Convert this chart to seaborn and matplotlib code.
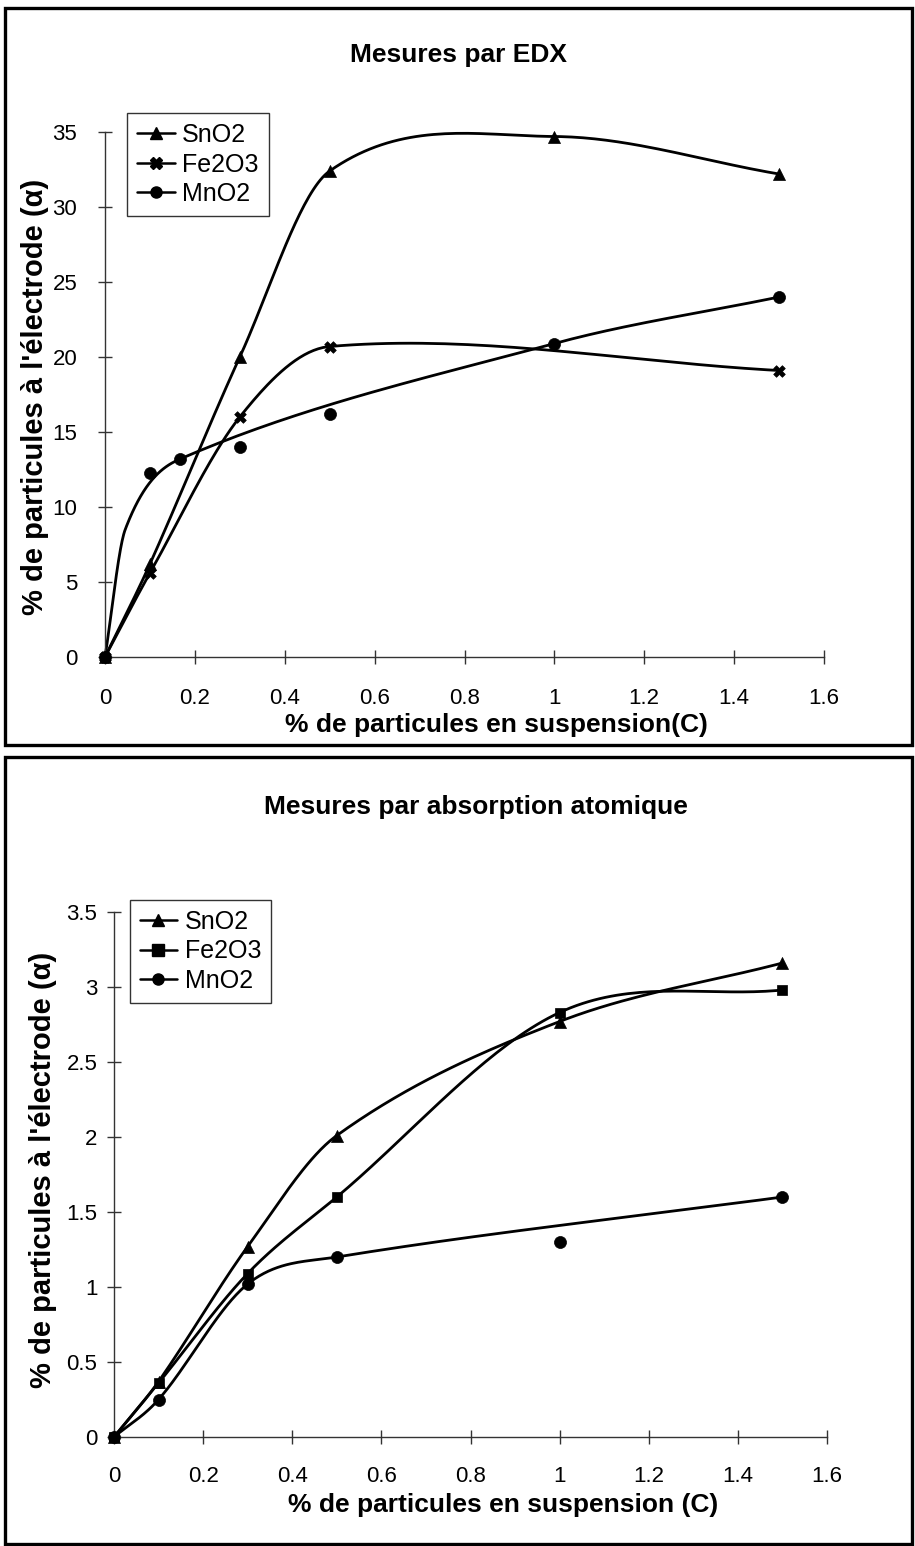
import numpy as np
import matplotlib
matplotlib.use("Agg")
import matplotlib.pyplot as plt
from matplotlib.lines import Line2D
from matplotlib.patches import Rectangle
import seaborn as sns

# ---------------- data ----------------
series_names = ["SnO2", "Fe2O3", "MnO2"]

# EDX (top)
edx_sn_x = [0, 0.1, 0.3, 0.5, 1.0, 1.5]
edx_sn_y = [0, 6.2, 20.0, 32.4, 34.7, 32.2]
edx_fe_x = [0, 0.1, 0.3, 0.5, 1.5]
edx_fe_y = [0, 5.6, 16.0, 20.7, 19.1]
edx_mn_x = [0, 0.1, 0.167, 0.3, 0.5, 1.0, 1.5]
edx_mn_y = [0, 12.3, 13.2, 14.0, 16.2, 20.9, 24.0]
# knots the drawn MnO2 curve passes through
edx_mn_curve_x = [0, 0.045, 0.167, 1.0, 1.5]
edx_mn_curve_y = [0, 8.5, 13.2, 20.9, 24.0]

# absorption atomique (bottom)
aa_sn_x = [0, 0.1, 0.3, 0.5, 1.0, 1.5]
aa_sn_y = [0, 0.37, 1.27, 2.01, 2.77, 3.16]
aa_fe_x = [0, 0.1, 0.3, 0.5, 1.0, 1.5]
aa_fe_y = [0, 0.36, 1.09, 1.60, 2.83, 2.98]
aa_mn_x = [0, 0.1, 0.3, 0.5, 1.0, 1.5]
aa_mn_y = [0, 0.25, 1.02, 1.20, 1.30, 1.60]
aa_mn_curve_x = [0, 0.1, 0.3, 0.5, 1.5]
aa_mn_curve_y = [0, 0.25, 1.02, 1.20, 1.60]

x_ticks = [0, 0.2, 0.4, 0.6, 0.8, 1, 1.2, 1.4, 1.6]
x_ticklabels = ["0", "0.2", "0.4", "0.6", "0.8", "1", "1.2", "1.4", "1.6"]
edx_yticks = [0, 5, 10, 15, 20, 25, 30, 35]
aa_yticks = [0, 0.5, 1, 1.5, 2, 2.5, 3, 3.5]
aa_yticklabels = ["0", "0.5", "1", "1.5", "2", "2.5", "3", "3.5"]

title_top = "Mesures par EDX"
title_bot = "Mesures par absorption atomique"
xlabel_top = "% de particules en suspension(C)"
xlabel_bot = "% de particules en suspension (C)"
ylabel = "% de particules à l'électrode (α)"


def smooth(xs, ys, n=40):
    """Cardinal (Catmull-Rom-like) Hermite curve through the knots, parameterised by x."""
    x = np.asarray(xs, float)
    y = np.asarray(ys, float)
    m = np.zeros_like(y)
    for i in range(len(x)):
        if i == 0:
            m[i] = (y[1] - y[0]) / (x[1] - x[0])
        elif i == len(x) - 1:
            m[i] = (y[-1] - y[-2]) / (x[-1] - x[-2])
        else:
            m[i] = (y[i + 1] - y[i - 1]) / (x[i + 1] - x[i - 1])
    ox, oy = [], []
    for i in range(len(x) - 1):
        h = x[i + 1] - x[i]
        t = np.linspace(0, 1, n)
        h00 = 2 * t**3 - 3 * t**2 + 1
        h10 = t**3 - 2 * t**2 + t
        h01 = -2 * t**3 + 3 * t**2
        h11 = t**3 - t**2
        ox.append(x[i] + t * h)
        oy.append(h00 * y[i] + h10 * h * m[i] + h01 * y[i + 1] + h11 * h * m[i + 1])
    return np.concatenate(ox), np.concatenate(oy)


sns.set_theme(style="white")
plt.rcParams["font.family"] = ["Liberation Sans", "DejaVu Sans"]
plt.rcParams["text.color"] = "black"
plt.rcParams["axes.labelcolor"] = "black"

W, H = 915, 1546
fig = plt.figure(figsize=(W / 100, H / 100), dpi=100)

# outer frames
for (x0, y0, x1, y1) in [(5, 8, 912, 745), (5, 757, 912, 1544)]:
    fig.patches.append(Rectangle((x0 / W, 1 - y1 / H), (x1 - x0) / W, (y1 - y0) / H,
                                 transform=fig.transFigure, fill=False,
                                 edgecolor="black", linewidth=2.4, zorder=0))

ax1 = fig.add_axes([105 / W, 1 - 657 / H, (824 - 105) / W, (657 - 132) / H])
ax2 = fig.add_axes([114 / W, 1 - 1437 / H, (827 - 114) / W, (1437 - 912) / H])


def draw(ax, sets, fe_marker, ylim, yticks, yticklabels, xpad, ypad):
    markers = ["^", fe_marker, "o"]
    msizes = [75, 70 if fe_marker == "X" else 60, 75]
    for (px, py, cx, cy), mk, ms in zip(sets, markers, msizes):
        sx, sy = smooth(cx, cy)
        sns.lineplot(x=sx, y=sy, ax=ax, color="black", linewidth=2.0,
                     sort=False, estimator=None, clip_on=False)
        sns.scatterplot(x=px, y=py, ax=ax, marker=mk, s=ms, color="black",
                        edgecolor="black", linewidth=0.5, clip_on=False, zorder=5)
    ax.set_xlim(0, 1.6)
    ax.set_ylim(*ylim)
    ax.set_xticks(x_ticks)
    ax.set_xticklabels(x_ticklabels)
    ax.set_yticks(yticks)
    ax.set_yticklabels(yticklabels)
    for s in ["top", "right"]:
        ax.spines[s].set_visible(False)
    for s in ["left", "bottom"]:
        ax.spines[s].set_color("#333333")
        ax.spines[s].set_linewidth(1.0)
    ax.tick_params(axis="both", which="major", bottom=True, left=True,
                   direction="inout", length=10, width=1,
                   color="#333333", labelsize=16, labelcolor="black")
    ax.tick_params(axis="x", pad=xpad)
    ax.tick_params(axis="y", pad=ypad)
    ax.set_facecolor("none")
    handles = [Line2D([], [], color="black", lw=1.8, marker=m, markersize=8)
               for m in markers]
    return handles


h1 = draw(ax1, [(edx_sn_x, edx_sn_y, edx_sn_x, edx_sn_y),
                (edx_fe_x, edx_fe_y, edx_fe_x, edx_fe_y),
                (edx_mn_x, edx_mn_y, edx_mn_curve_x, edx_mn_curve_y)],
          "X", (0, 35), edx_yticks, [str(v) for v in edx_yticks], 17, 15)
h2 = draw(ax2, [(aa_sn_x, aa_sn_y, aa_sn_x, aa_sn_y),
                (aa_fe_x, aa_fe_y, aa_fe_x, aa_fe_y),
                (aa_mn_x, aa_mn_y, aa_mn_curve_x, aa_mn_curve_y)],
          "s", (0, 3.5), aa_yticks, aa_yticklabels, 16, 7)

for ax, h, anchor in [(ax1, h1, (0.031, 1.036)), (ax2, h2, (0.022, 1.023))]:
    leg = ax.legend(h, series_names, loc="upper left", bbox_to_anchor=anchor,
                    frameon=True, fancybox=False, edgecolor="black", fontsize=18,
                    handlelength=1.5, handletextpad=0.3, borderpad=0.4,
                    labelspacing=0.22, borderaxespad=0)
    leg.get_frame().set_linewidth(1.0)

# axis labels
ax1.set_xlabel(xlabel_top, fontsize=19, fontweight="bold")
ax1.xaxis.set_label_coords(0.544, -0.13)
ax2.set_xlabel(xlabel_bot, fontsize=19, fontweight="bold")
ax2.xaxis.set_label_coords(0.546, -0.13)
ax1.set_ylabel(ylabel, fontsize=21, fontweight="bold")
ax1.yaxis.set_label_coords(-0.098, 0.495)
ax2.set_ylabel(ylabel, fontsize=21, fontweight="bold")
ax2.yaxis.set_label_coords(-0.100, 0.509)
for ax in (ax1, ax2):
    ax.xaxis.label.set_va("center")
    ax.yaxis.label.set_va("center")

fig.text(459 / W, 1 - 55 / H, title_top, ha="center", va="center",
         fontsize=19, fontweight="bold")
fig.text(476 / W, 1 - 807 / H, title_bot, ha="center", va="center",
         fontsize=19, fontweight="bold")

fig.savefig("out.png", dpi=100, facecolor="white")
